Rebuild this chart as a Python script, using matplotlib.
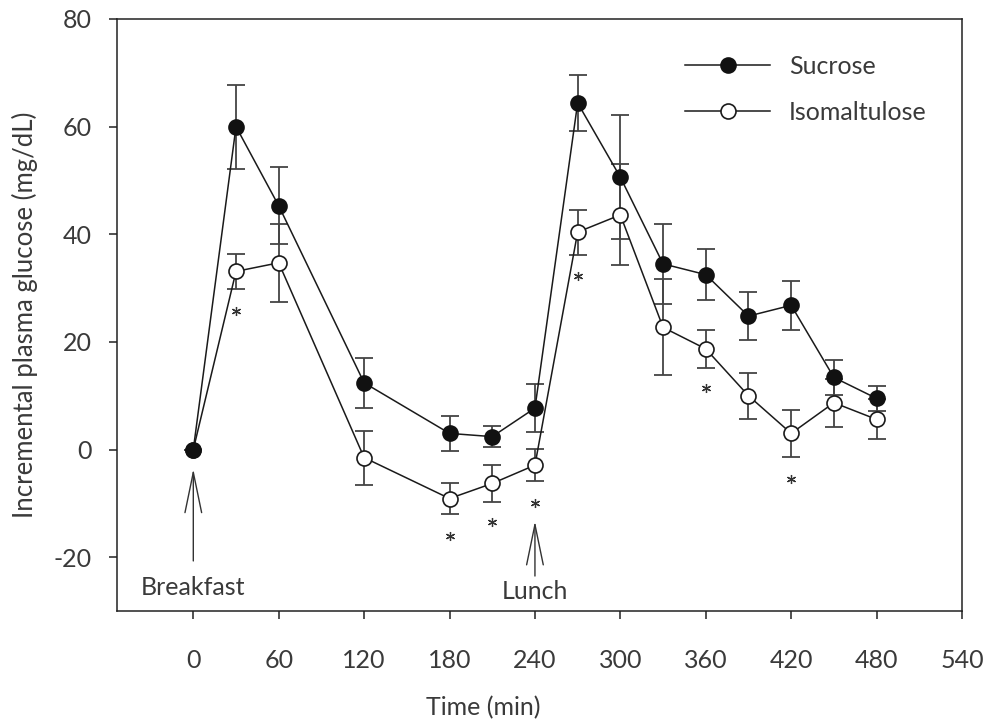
import matplotlib
matplotlib.use("Agg")
import matplotlib.pyplot as plt

plt.rcParams['font.family'] = ['Lato', 'DejaVu Sans']
plt.rcParams['axes.unicode_minus'] = False

# ---- data ----
time = [0, 30, 60, 120, 180, 210, 240, 270, 300, 330, 360, 390, 420, 450, 480]
sucrose = [0, 60.0, 45.3, 12.4, 3.0, 2.4, 7.7, 64.4, 50.6, 34.5, 32.5, 24.8, 26.8, 13.4, 9.5]
sucrose_err = [0, 7.8, 7.2, 4.6, 3.2, 2.0, 4.5, 5.2, 11.5, 7.5, 4.7, 4.4, 4.5, 3.3, 2.3]
isomaltulose = [0, 33.1, 34.7, -1.5, -9.1, -6.3, -2.9, 40.4, 43.6, 22.7, 18.7, 10.0, 3.0, 8.7, 5.6]
isomaltulose_err = [0, 3.3, 7.2, 5.0, 2.8, 3.4, 3.0, 4.2, 9.4, 8.9, 3.6, 4.3, 4.4, 4.5, 3.7]

sig_time = [30, 180, 210, 240, 270, 360, 420]
sig_y = [25.7, -16.1, -13.5, -9.9, 32.3, 11.5, -5.4]

meals = ["Breakfast", "Lunch"]
meal_time = [0, 240]
meal_arrow_tip = [-3.6, -13.3]
meal_arrow_tail = [-20.7, -23.5]
meal_label_y = [-25.6, -26.3]

xticks = [0, 60, 120, 180, 240, 300, 360, 420, 480, 540]
yticks = [-20, 0, 20, 40, 60, 80]

# ---- figure ----
fig = plt.figure(figsize=(9.88, 7.24), dpi=100)
ax = fig.add_axes([117/988, 1-611/724, (962-117)/988, (611-19)/724])

text_col = '#3a3a3a'
line_col = '#1a1a1a'
err_col = '#444444'
fs = 18

ax.errorbar(time, isomaltulose, yerr=isomaltulose_err, fmt='none', ecolor=err_col,
            elinewidth=1.3, capsize=6.5, capthick=1.3, zorder=2)
ax.errorbar(time, sucrose, yerr=sucrose_err, fmt='none', ecolor=err_col,
            elinewidth=1.3, capsize=6.5, capthick=1.3, zorder=2)
ax.plot(time, isomaltulose, '-o', color=line_col, lw=1.1, ms=10.8,
        mfc='white', mec=line_col, mew=1.2, zorder=3, label='Isomaltulose')
ax.plot(time, sucrose, '-o', color=line_col, lw=1.1, ms=10.8,
        mfc='#111111', mec='#111111', mew=1.2, zorder=4, label='Sucrose')

ax.plot(sig_time, sig_y, linestyle='none', marker=(6, 2, 0), ms=6.5,
        mew=0.9, color='#333333', zorder=5)

for name, t, tip, tail, ly in zip(meals, meal_time, meal_arrow_tip, meal_arrow_tail, meal_label_y):
    ax.annotate('', xy=(t, tip), xytext=(t, tail),
                arrowprops=dict(arrowstyle='->,head_length=2.9,head_width=0.6',
                                mutation_scale=10, color='#333333', lw=1.0,
                                shrinkA=0, shrinkB=0))
    ax.text(t, ly, name, ha='center', va='center', fontsize=fs, color=text_col)

ax.set_xlim(-53.6, 540)
ax.set_ylim(-30, 80)
ax.set_xticks(xticks)
ax.set_yticks(yticks)
ax.tick_params(axis='both', direction='out', length=6, width=1.1, colors='#222222',
               labelcolor=text_col, labelsize=fs)
ax.tick_params(axis='x', pad=21)
ax.tick_params(axis='y', pad=12)
for s in ax.spines.values():
    s.set_linewidth(1.1)
    s.set_color('#222222')

ax.set_xlabel('Time (min)', fontsize=fs, color=text_col)
ax.xaxis.set_label_coords((483-117)/845, -0.143)
ax.set_ylabel('Incremental plasma glucose (mg/dL)', fontsize=18.5, color=text_col)
ax.yaxis.set_label_coords(-0.094, 0.5)

handles, labels = ax.get_legend_handles_labels()
leg = ax.legend(handles[::-1], labels[::-1], loc='upper left',
                bbox_to_anchor=((685-117)/845, (611-55)/592),
                frameon=False, prop={'size': fs}, handlelength=3.4,
                handletextpad=0.75, labelspacing=0.9, borderpad=0, borderaxespad=0,
                labelcolor=text_col)

fig.savefig('out.png', dpi=100)
